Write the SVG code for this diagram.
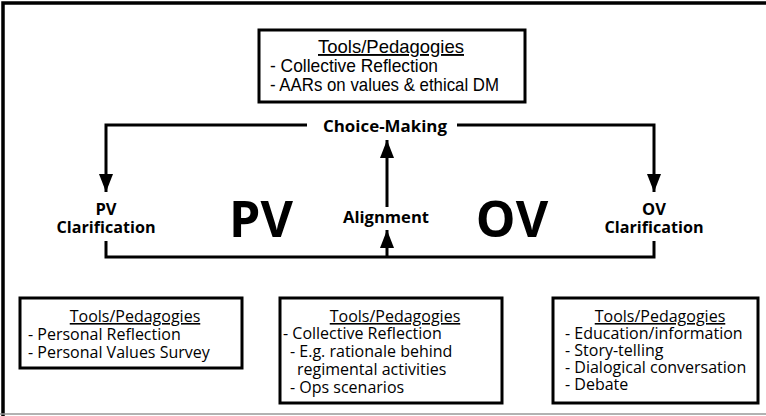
<svg xmlns="http://www.w3.org/2000/svg" width="766" height="416" viewBox="0 0 766 416">
<defs>
<marker id="ah" viewBox="0 0 18 14" refX="18" refY="7" markerWidth="18" markerHeight="14" markerUnits="userSpaceOnUse" orient="auto">
<path d="M0,0 L18,7 L0,14 Z" fill="#000"/>
</marker>
<style>
.box{fill:#fff;stroke:#000;stroke-width:3}
.ln{fill:none;stroke:#000;stroke-width:3}
.cond{font-family:"Liberation Sans",Arial,sans-serif;font-size:19px;fill:#000}
.reg{font-family:"Open Sans","Liberation Sans",sans-serif;font-size:16px;fill:#000}
.bold{font-family:"Open Sans","Liberation Sans",sans-serif;font-size:16.5px;font-weight:bold;fill:#000}
.big{font-family:"Open Sans","Liberation Sans",sans-serif;font-size:50px;font-weight:bold;fill:#000}
.ul{text-decoration:underline}
</style>
</defs>
<rect width="766" height="416" fill="#fff"/>
<g id="frame">
<path d="M3,416 L3,3 L766,3" fill="none" stroke="#000" stroke-width="3.5"/>
<line x1="0" y1="414" x2="766" y2="414" stroke="#999" stroke-width="1.5"/>
</g>
<g id="connectors">
<path class="ln" d="M307,125 L106,125 L106,192" marker-end="url(#ah)"/>
<path class="ln" d="M457,125 L654,125 L654,192" marker-end="url(#ah)"/>
<path class="ln" d="M106,241 L106,257 L654,257 L654,241"/>
<path class="ln" d="M387,207 L387,140" marker-end="url(#ah)"/>
<path class="ln" d="M387,257 L387,230" marker-end="url(#ah)"/>
</g>
<g id="tools-top">
<rect class="box" x="259" y="30" width="266" height="72"/>
<text class="cond ul" x="391" y="53" text-anchor="middle" textLength="146" lengthAdjust="spacingAndGlyphs">Tools/Pedagogies</text>
<text class="cond" x="270" y="72" textLength="168" lengthAdjust="spacingAndGlyphs">- Collective Reflection</text>
<text class="cond" x="270" y="91" textLength="229" lengthAdjust="spacingAndGlyphs">- AARs on values &amp; ethical DM</text>
</g>
<g id="choice-making">
<text class="bold" x="385" y="132" text-anchor="middle" textLength="124" lengthAdjust="spacingAndGlyphs">Choice-Making</text>
</g>
<g id="pv-clarification">
<text class="bold" x="106" y="215" text-anchor="middle">PV</text>
<text class="bold" x="106" y="233" text-anchor="middle" textLength="99" lengthAdjust="spacingAndGlyphs">Clarification</text>
</g>
<g id="ov-clarification">
<text class="bold" x="654" y="215" text-anchor="middle">OV</text>
<text class="bold" x="654" y="233" text-anchor="middle" textLength="99" lengthAdjust="spacingAndGlyphs">Clarification</text>
</g>
<g id="alignment">
<text class="bold" x="386" y="223" text-anchor="middle" textLength="86" lengthAdjust="spacingAndGlyphs">Alignment</text>
</g>
<g id="pv-big">
<text class="big" x="261" y="237" text-anchor="middle">PV</text>
</g>
<g id="ov-big">
<text class="big" x="512" y="237" text-anchor="middle">OV</text>
</g>
<g id="tools-pv">
<rect class="box" x="20" y="298" width="222" height="70"/>
<text class="reg ul" x="135" y="322" text-anchor="middle">Tools/Pedagogies</text>
<text class="reg" x="28" y="340">- Personal Reflection</text>
<text class="reg" x="28" y="358">- Personal Values Survey</text>
</g>
<g id="tools-align">
<rect class="box" x="280" y="298" width="222" height="105"/>
<text class="reg ul" x="395" y="322" text-anchor="middle">Tools/Pedagogies</text>
<text class="reg" x="283" y="339">- Collective Reflection</text>
<text class="reg" x="290" y="357">- E.g. rationale behind</text>
<text class="reg" x="297" y="375">regimental activities</text>
<text class="reg" x="290" y="393">- Ops scenarios</text>
</g>
<g id="tools-ov">
<rect class="box" x="553" y="298" width="205" height="105"/>
<text class="reg ul" x="660" y="322" text-anchor="middle">Tools/Pedagogies</text>
<text class="reg" x="565" y="339">- Education/information</text>
<text class="reg" x="565" y="356">- Story-telling</text>
<text class="reg" x="565" y="373">- Dialogical conversation</text>
<text class="reg" x="565" y="390">- Debate</text>
</g>
</svg>
